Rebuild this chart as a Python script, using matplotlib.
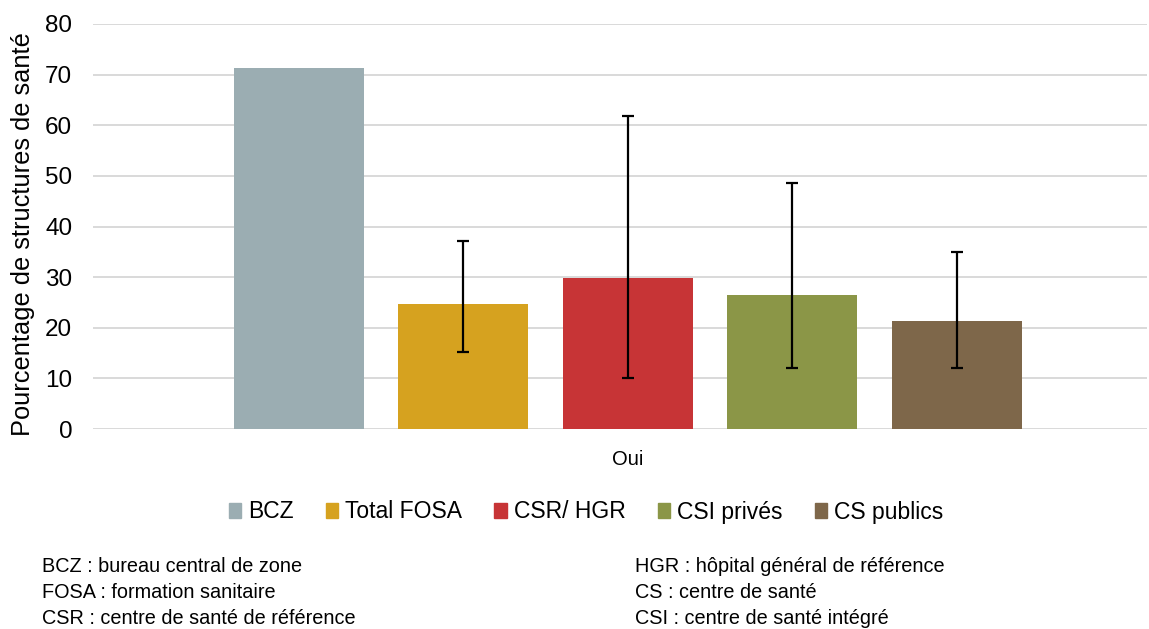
import numpy as np
import matplotlib
matplotlib.use("Agg")
import matplotlib.pyplot as plt
from matplotlib.patches import Patch

# data
categories = ["BCZ", "Total FOSA", "CSR/ HGR", "CSI privés", "CS publics"]
values = [71.4, 24.7, 29.9, 26.5, 21.3]
err_low = [np.nan, 15.3, 10.1, 12.1, 12.1]
err_high = [np.nan, 37.1, 61.9, 48.6, 34.9]
colors = ["#9BADB2", "#D6A21F", "#C73436", "#8B9647", "#7E674A"]
group_label = "Oui"
footnotes_left = ["BCZ : bureau central de zone",
                  "FOSA : formation sanitaire",
                  "CSR : centre de santé de référence"]
footnotes_right = ["HGR : hôpital général de référence",
                   "CS : centre de santé",
                   "CSI : centre de santé intégré"]

plt.rcParams['font.family'] = ['Liberation Sans', 'DejaVu Sans']

fig = plt.figure(figsize=(11.49, 6.29), dpi=100)
ax = fig.add_axes([93 / 1149, 1 - 429 / 629, (1147 - 93) / 1149, (429 - 24) / 629])

x = np.arange(len(categories))
vals = np.array(values)
lo = vals - np.array(err_low)
hi = np.array(err_high) - vals
ax.bar(x, vals, width=0.79, color=colors, zorder=2)
mask = ~np.isnan(lo)
ax.errorbar(x[mask], vals[mask], yerr=[lo[mask], hi[mask]], fmt='none',
            ecolor='black', elinewidth=1.6, capsize=4.3, capthick=1.6, zorder=3)

ax.set_xlim(-1.25, 5.155)
ax.set_ylim(0, 80)
ax.set_yticks(range(0, 81, 10))
ax.yaxis.grid(True, color='#d9d9d9', linewidth=1.4, zorder=0)
ax.set_axisbelow(True)
for s in ax.spines.values():
    s.set_visible(False)
ax.tick_params(axis='y', length=0, labelsize=17.5, pad=15)
ax.set_xticks([2])
ax.set_xticklabels([group_label], fontsize=14.5)
ax.tick_params(axis='x', length=0, pad=15)
ax.set_ylabel("Pourcentage de structures de santé", fontsize=18.3)
ax.yaxis.set_label_coords(-58 / 1054, (429 - 234) / 405)

handles = [Patch(color=c, label=l) for c, l in zip(colors, categories)]
fig.legend(handles=handles, loc='center', bbox_to_anchor=(586 / 1149, 1 - 512 / 629),
           ncol=5, frameon=False, fontsize=16.5, handlelength=0.55, handleheight=0.6,
           handletextpad=0.3, columnspacing=1.4)

for i, (l, r) in enumerate(zip(footnotes_left, footnotes_right)):
    yy = 1 - (567 + 26 * i) / 629
    fig.text(42 / 1149, yy, l, fontsize=14.3, va='center')
    fig.text(635 / 1149, yy, r, fontsize=14.3, va='center')

fig.savefig("out.png", dpi=100)
